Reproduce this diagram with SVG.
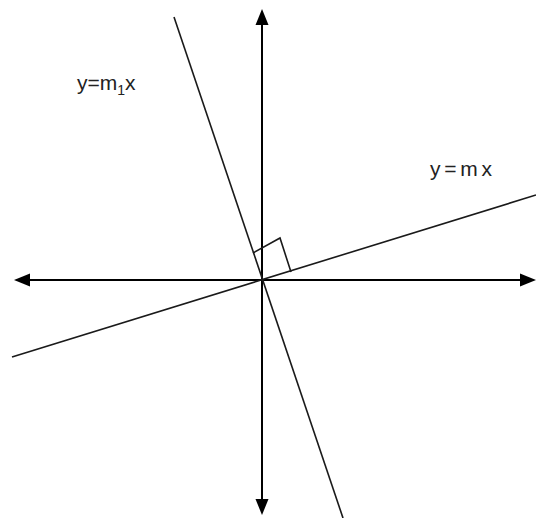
<svg xmlns="http://www.w3.org/2000/svg" width="536" height="518" viewBox="0 0 536 518">
<style>
.axis{stroke:#000;stroke-width:2;fill:none}
.ln{stroke:#1a1a1a;stroke-width:1.6;fill:none}
.head{fill:#000}
.lbl{font-family:"Liberation Sans",Arial,sans-serif;font-size:21px;fill:#222}
</style>
<rect width="536" height="518" fill="#fff"/>
<g id="connectors">
<line class="axis" x1="28" y1="280" x2="522" y2="280"/>
<polygon class="head" points="14,280 30,273.5 30,286.5"/>
<polygon class="head" points="536,280 520,273.5 520,286.5"/>
<line class="axis" x1="262" y1="22" x2="262" y2="502"/>
<polygon class="head" points="262,9 255.5,25 268.5,25"/>
<polygon class="head" points="262,515 255.5,499 268.5,499"/>
<line class="ln" x1="174" y1="17" x2="343" y2="518"/>
<line class="ln" x1="12" y1="357" x2="536" y2="195"/>
<polyline class="ln" points="253,253 280,238 291,272"/>
</g>
<g id="label-m1">
<text class="lbl" x="77" y="90">y=m<tspan font-size="14" dy="5">1</tspan><tspan dy="-5">x</tspan></text>
</g>
<g id="label-m">
<text class="lbl" x="430" y="176" textLength="62">y=mx</text>
</g>
</svg>
